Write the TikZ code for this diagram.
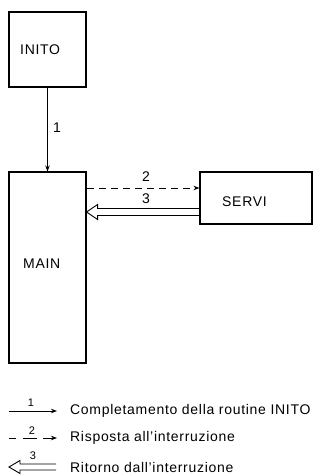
\documentclass[tikz,border=0pt]{standalone}
\usepackage{fontspec}
\setmainfont{Liberation Sans}[LetterSpace=5]
\usetikzlibrary{arrows.meta}
\tikzset{
  box/.style={draw, line width=1.1pt, inner xsep=0pt, inner ysep=0pt, font=\fontsize{14}{16}\selectfont},
  lab/.style={font=\fontsize{14}{16}\selectfont, inner sep=0pt},
  leglab/.style={font=\fontsize{11}{13}\selectfont, inner sep=0pt},
  legtext/.style={font=\fontsize{14}{16}\selectfont, inner sep=0pt, anchor=west},
  conn/.style={line width=0.9pt, -{Stealth[length=6pt,width=4.5pt]}},
  hollow/.style={line width=0.9pt, line join=miter},
}
\begin{document}
\begin{tikzpicture}[x=1pt,y=-1pt]
\useasboundingbox (0,0) rectangle (320,475);
% boxes
\node[box, minimum width=77pt, minimum height=75pt] (inito) at (47.5,49.5) {};
\node[lab, anchor=west] (initot) at (20,50) {INITO};
\node[box, minimum width=77pt, minimum height=191pt] (main) at (47.5,267.5) {};
\node[lab, anchor=west] (maint) at (23,264) {MAIN};
\node[box, minimum width=112pt, minimum height=52pt] (servi) at (256,198) {};
\node[lab, anchor=west] (servit) at (222,202) {SERVI};
% connector 1
\draw[conn] (inito.south) -- (main.north);
\node[lab] (l1) at (57,128) {1};
% connector 2 (dashed)
\coordinate (d1) at (main.east |- 0,188);
\coordinate (d2) at (servi.west |- 0,188);
\draw[conn, dash pattern=on 7pt off 5pt] (d1) -- (d2);
\node[lab] (l2) at (146,177) {2};
% connector 3 (hollow)
\coordinate (h0) at (servi.west |- 0,212);
\coordinate (htip) at (main.east |- 0,212);
\draw[hollow] ([yshift=-3.5pt]h0) -- ([xshift=11pt,yshift=-3.5pt]htip) -- ([xshift=11pt,yshift=-7.5pt]htip) -- (htip)
  -- ([xshift=11pt,yshift=7.5pt]htip) -- ([xshift=11pt,yshift=3.5pt]htip) -- ([yshift=3.5pt]h0);
\node[lab] (l3) at (146,199) {3};
% legend
\coordinate (a1) at (9,411);
\coordinate (b1) at (57,411);
\draw[conn] (a1) -- (b1);
\node[leglab] (k1) at (31,403) {1};
\node[legtext] (t1) at (70,411) {Completamento della routine INITO};
\coordinate (a2) at (9,438);
\coordinate (b2) at (57,438);
\draw[conn, dash pattern=on 7pt off 7pt on 14pt off 6pt on 20pt] (a2) -- (b2);
\node[leglab] (k2) at (32,431) {2};
\node[legtext] (t2) at (70,438) {Risposta all'interruzione};
\coordinate (a3) at (9,467);
\coordinate (b3) at (56,467);
\draw[hollow] ([yshift=-3pt]b3) -- ([xshift=11pt,yshift=-3pt]a3) -- ([xshift=11pt,yshift=-6.5pt]a3) -- (a3)
  -- ([xshift=11pt,yshift=6.5pt]a3) -- ([xshift=11pt,yshift=3pt]a3) -- ([yshift=3pt]b3);
\node[leglab] (k3) at (33,456) {3};
\node[legtext] (t3) at (70,467) {Ritorno dall'interruzione};
\end{tikzpicture}
\end{document}
